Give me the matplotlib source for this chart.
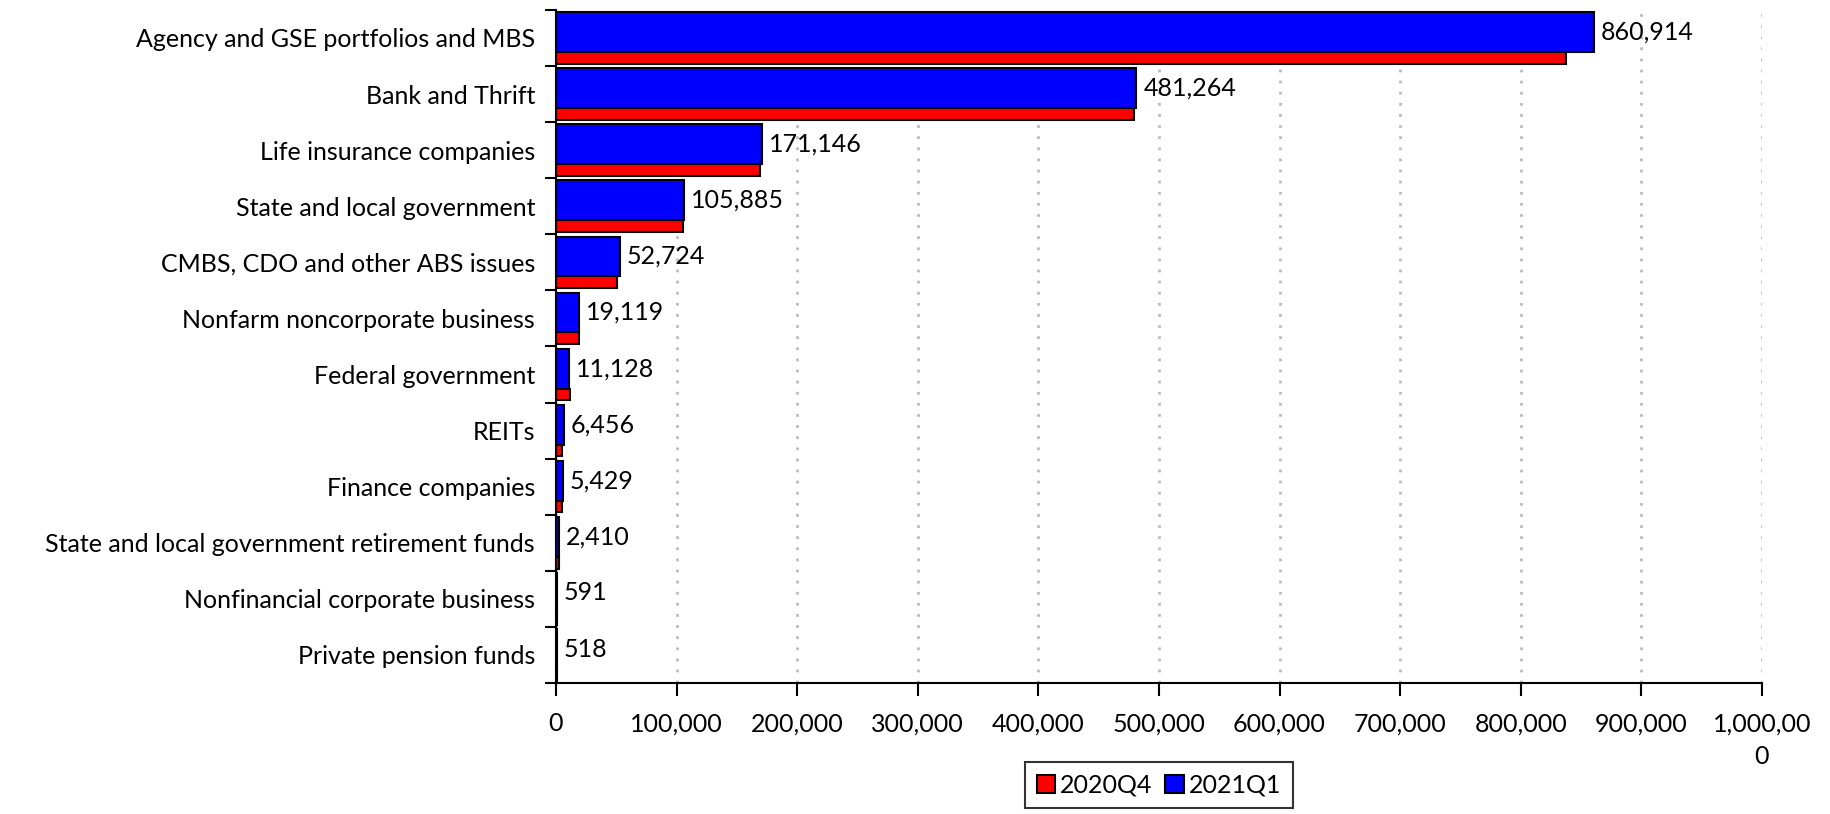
import numpy as np
import matplotlib
matplotlib.use("Agg")
import matplotlib.pyplot as plt

plt.rcParams['font.family'] = ['Lato', 'DejaVu Sans']

categories = ['Agency and GSE portfolios and MBS', 'Bank and Thrift',
              'Life insurance companies', 'State and local government',
              'CMBS, CDO and other ABS issues', 'Nonfarm noncorporate business',
              'Federal government', 'REITs', 'Finance companies',
              'State and local government retirement funds',
              'Nonfinancial corporate business', 'Private pension funds']
q2020q4 = [837500, 479300, 169000, 105000, 50500, 19000, 11400, 4800, 5000, 2300, 600, 500]
q2021q1 = [860914, 481264, 171146, 105885, 52724, 19119, 11128, 6456, 5429, 2410, 591, 518]
xticks = np.arange(0, 1000001, 100000)

fs = 18
y = np.arange(len(categories))

fig = plt.figure(figsize=(18.3, 8.14), dpi=100)
ax = fig.add_axes([0.3038, 0.161, 0.659, 0.8268])

ax.set_axisbelow(True)
ax.grid(axis='x', color='#bbbbbb', linestyle=(0, (1, 3)), linewidth=2)

red = ax.barh(y + 0.355, q2020q4, height=0.21, color='#ff0000',
              edgecolor='black', linewidth=1.5, label='2020Q4')
blue = ax.barh(y - 0.105, q2021q1, height=0.71, color='#0000ff',
               edgecolor='black', linewidth=1.5, label='2021Q1')
ax.bar_label(blue, labels=[f"{v:,}" for v in q2021q1], padding=5, fontsize=fs)

ax.set_xlim(0, 1000000)
ax.set_ylim(len(categories) - 0.5, -0.5)
ax.set_xticks(xticks)
ax.set_xticklabels([f"{v:,}" if v < 1000000 else "1,000,00\n0" for v in xticks],
                   fontsize=fs, linespacing=1.5, va='top')
ax.set_yticks(y)
ax.set_yticklabels(categories, fontsize=fs)
ax.set_yticks(np.arange(len(categories) + 1) - 0.5, minor=True)
ax.tick_params(axis='y', which='major', length=0, pad=15)
ax.tick_params(axis='y', which='minor', length=8, width=1.5)
ax.tick_params(axis='x', length=9, width=1.5, pad=12)

for s in ['top', 'right']:
    ax.spines[s].set_visible(False)
for s in ['left', 'bottom']:
    ax.spines[s].set_linewidth(1.5)

leg = ax.legend(loc='upper center', bbox_to_anchor=(0.5, -0.118), ncol=2,
                fontsize=fs, frameon=True, fancybox=False, edgecolor='black',
                handlelength=0.75, handleheight=0.75, handletextpad=0.2,
                columnspacing=0.5, borderpad=0.45, borderaxespad=0)
leg.get_frame().set_linewidth(1.5)

plt.savefig('out.png', dpi=100)
